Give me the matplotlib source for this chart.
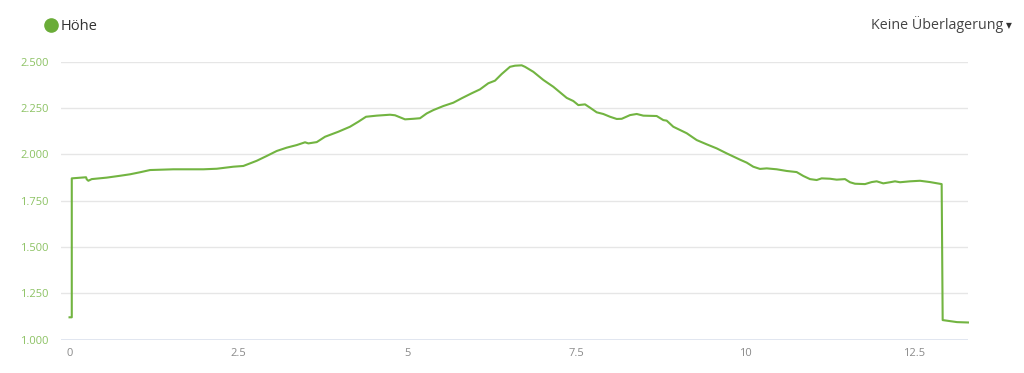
import matplotlib
matplotlib.use("Agg")
import matplotlib.pyplot as plt
from matplotlib.lines import Line2D
from matplotlib.ticker import FuncFormatter

# distance in km, elevation in m
km = [0.0, 0.033, 0.033, 0.244, 0.254, 0.278, 0.328, 0.550, 0.747, 0.895,
      1.043, 1.191, 1.536, 1.979, 2.178, 2.423, 2.571, 2.769, 2.917, 3.065,
      3.213, 3.361, 3.484, 3.533, 3.657, 3.780, 3.976, 4.149, 4.272, 4.386,
      4.544, 4.741, 4.815, 4.963, 5.086, 5.185, 5.284, 5.382, 5.530, 5.678,
      5.802, 5.950, 6.072, 6.195, 6.294, 6.393, 6.516, 6.590, 6.689, 6.738,
      6.861, 7.009, 7.157, 7.256, 7.355, 7.453, 7.527, 7.626, 7.700, 7.799,
      7.896, 7.996, 8.095, 8.169, 8.292, 8.391, 8.488, 8.686, 8.784, 8.834,
      8.932, 9.130, 9.278, 9.426, 9.574, 9.722, 9.919, 10.018, 10.115, 10.214,
      10.314, 10.462, 10.609, 10.757, 10.855, 10.954, 11.053, 11.127, 11.250, 11.349,
      11.472, 11.546, 11.620, 11.768, 11.867, 11.941, 12.038, 12.138, 12.212, 12.286,
      12.434, 12.582, 12.729, 12.902, 12.917, 13.129, 13.291]
hoehe = [1120, 1120, 1871, 1877, 1866, 1858, 1867, 1875, 1885, 1893,
         1904, 1916, 1920, 1920, 1923, 1934, 1938, 1966, 1992, 2019,
         2037, 2051, 2066, 2060, 2067, 2096, 2123, 2150, 2177, 2204,
         2210, 2215, 2212, 2190, 2193, 2196, 2222, 2240, 2262, 2280,
         2304, 2331, 2352, 2385, 2399, 2435, 2474, 2480, 2482, 2474,
         2447, 2403, 2366, 2336, 2306, 2289, 2267, 2271, 2253, 2228,
         2219, 2204, 2192, 2193, 2213, 2219, 2210, 2208, 2186, 2183,
         2150, 2115, 2078, 2055, 2033, 2006, 1972, 1956, 1934, 1922,
         1925, 1920, 1911, 1905, 1884, 1867, 1862, 1871, 1869, 1864,
         1867, 1850, 1842, 1840, 1851, 1855, 1844, 1850, 1855, 1850,
         1855, 1858, 1851, 1840, 1105, 1094, 1092]

x_ticks = [0, 2.5, 5, 7.5, 10, 12.5]
y_ticks = [1000, 1250, 1500, 1750, 2000, 2250, 2500]

green = "#72b441"
label_green = "#8cc263"

plt.rcParams['font.family'] = ['Open Sans', 'DejaVu Sans']

fig = plt.figure(figsize=(10.24, 3.73), dpi=100)
ax = fig.add_axes([0.0596, 0.0898, 0.8854, 0.744])

ax.plot(km, hoehe, color=green, lw=1.5, clip_on=False, zorder=3)

ax.set_xlim(-0.126, 13.287)
ax.set_ylim(1000, 2500)
ax.set_xticks(x_ticks)
ax.set_yticks(y_ticks)
ax.xaxis.set_major_formatter(FuncFormatter(lambda v, p: ("%g" % v)))
ax.yaxis.set_major_formatter(FuncFormatter(lambda v, p: ("{:,.0f}".format(v)).replace(",", ".")))
ax.tick_params(axis="both", length=0)
ax.tick_params(axis="y", labelsize=8, labelcolor=label_green, pad=9)
ax.tick_params(axis="x", labelsize=8, labelcolor="#8a8a8a", pad=6)

for s in ax.spines.values():
    s.set_visible(False)
ax.grid(axis="y", color="#e6e6e6", lw=1)
ax.axhline(1000, color="#dde3ef", lw=1.2, zorder=2)
ax.set_axisbelow(True)

# legend and overlay menu
fig.add_artist(Line2D([51 / 1024], [1 - 25 / 373], marker="o", markersize=9.5,
                      color="#6aac38", transform=fig.transFigure))
fig.text(61 / 1024, 1 - 30 / 373, "Höhe", color="#333333", fontsize=10.5,
         ha="left", va="baseline")
fig.text(1003 / 1024, 1 - 29 / 373, "Keine Überlagerung", color="#444444",
         fontsize=10.3, ha="right", va="baseline")
fig.text(1009 / 1024, 1 - 26 / 373, "▼", color="#333333", fontsize=5.5,
         ha="center", va="center", family=['DejaVu Sans'])

fig.savefig("out.png", dpi=100)
